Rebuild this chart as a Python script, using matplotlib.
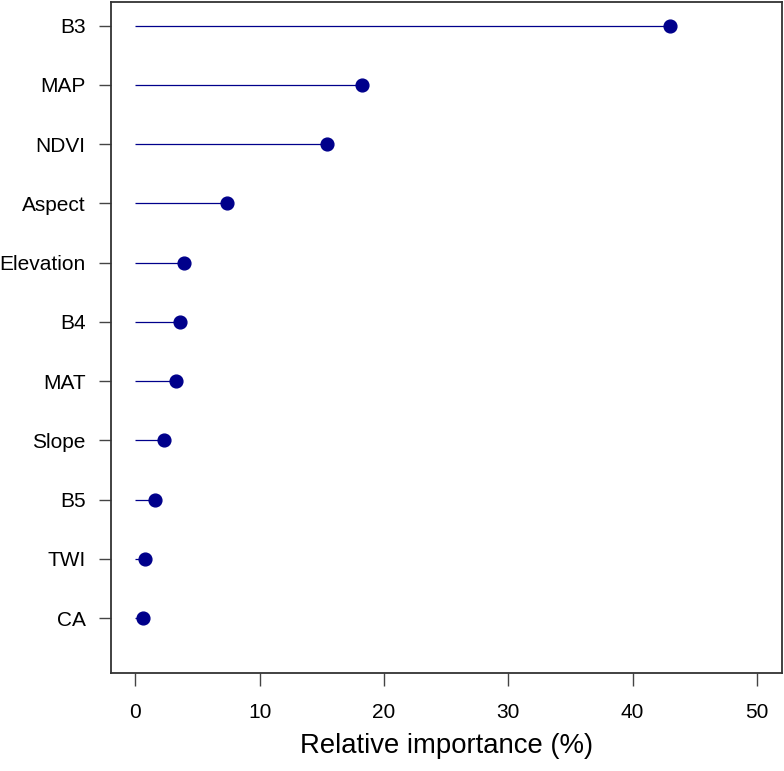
import numpy as np
import matplotlib.pyplot as plt

plt.rcParams['font.family'] = ['Liberation Sans', 'DejaVu Sans']

variables = ['B3', 'MAP', 'NDVI', 'Aspect', 'Elevation', 'B4', 'MAT', 'Slope', 'B5', 'TWI', 'CA']
importance = [43.0, 18.25, 15.45, 7.35, 3.9, 3.6, 3.25, 2.3, 1.6, 0.8, 0.6]

fig = plt.figure(figsize=(7.84, 7.71), dpi=100)
ax = fig.add_axes([0.141, 0.1275, 0.856, 0.87])

# one row per variable, top to bottom
pos = np.arange(len(variables), 0, -1)
ax.hlines(pos, 0, importance, color='#00008B', linewidth=0.9)
ax.plot(importance, pos, 'o', color='#00008B', markersize=9.2, zorder=3)

ax.set_xlim(-2, 52)
ax.set_ylim(0.08, 11.4)
ax.set_xticks([0, 10, 20, 30, 40, 50])
ax.set_yticks(pos)
ax.set_yticklabels(variables)
ax.tick_params(axis='both', direction='out', length=9, width=1, color='#444444',
               labelsize=15, pad=9)
ax.tick_params(axis='x', pad=13)
for s in ax.spines.values():
    s.set_linewidth(1.3)
    s.set_color('#333333')

ax.set_xlabel('Relative importance (%)', fontsize=19.8, labelpad=8)

fig.savefig('out.png', dpi=100)
